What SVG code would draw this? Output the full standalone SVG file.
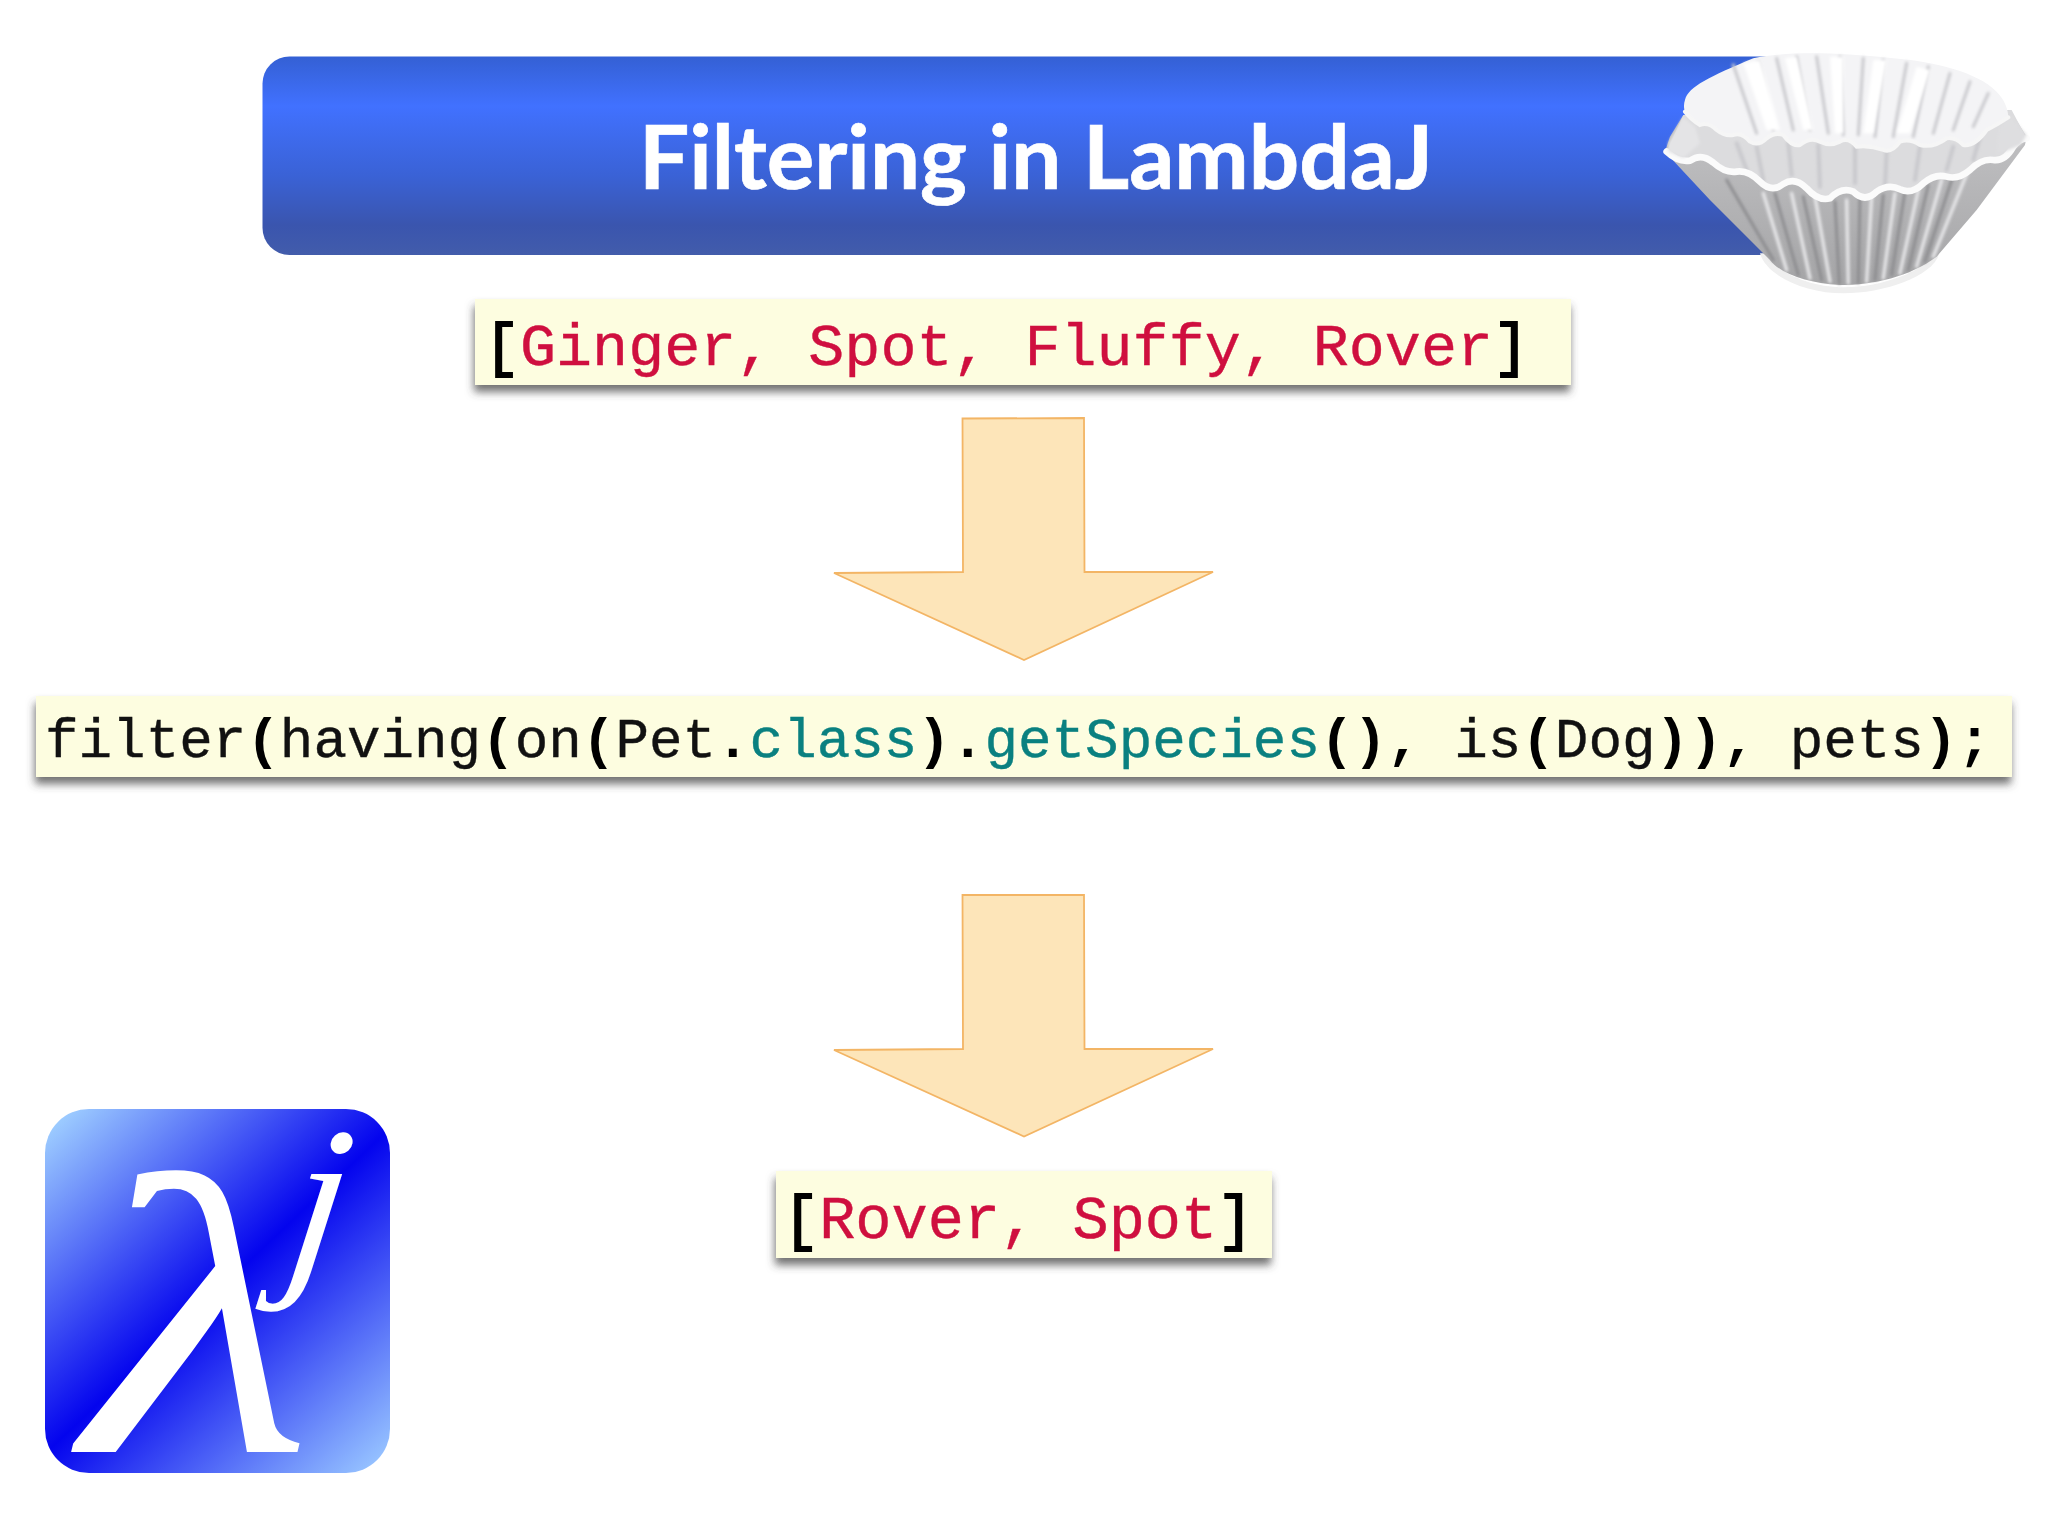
<svg xmlns="http://www.w3.org/2000/svg" width="2048" height="1536" viewBox="0 0 2048 1536">
<style>
.code{font-family:"Liberation Mono","Courier New",monospace;fill:#111;stroke:#111;stroke-width:.4}
.b{font-weight:700;fill:#000;stroke:none}
.k{fill:#000;stroke:#000;stroke-width:1.8}
.red{fill:#cf0f3f;stroke:#cf0f3f}
.teal{fill:#0a8080;stroke:#0a8080}
.box{fill:#fdfde0;filter:url(#sh)}
.arrow{fill:#fde5b9;stroke:#f3b565;stroke-width:1.8;stroke-linejoin:miter}
.pd{stroke:#8a8a8d;fill:none;stroke-linecap:round}
.pl{stroke:#e8e8ea;fill:none;stroke-linecap:round}
.pu{stroke:#c9c9cd;fill:none;stroke-linecap:round}
</style>
<defs>
<linearGradient id="bar" x1="0" y1="0" x2="0" y2="1">
<stop offset="0" stop-color="#3460d4"/><stop offset=".25" stop-color="#4171ff"/><stop offset=".6" stop-color="#3a62d6"/><stop offset=".85" stop-color="#3a55ae"/><stop offset="1" stop-color="#425cab"/>
</linearGradient>
<linearGradient id="logo" gradientUnits="userSpaceOnUse" x1="58" y1="1122" x2="377" y2="1460">
<stop offset="0" stop-color="#9ccbff"/><stop offset=".5" stop-color="#0404ee"/><stop offset="1" stop-color="#94c0ff"/>
</linearGradient>
<linearGradient id="body" gradientUnits="userSpaceOnUse" x1="0" y1="380" x2="0" y2="770">
<stop offset="0" stop-color="#bcbcbe"/><stop offset="1" stop-color="#a4a4a6"/>
</linearGradient>
<filter id="sh" x="-5%" y="-20%" width="110%" height="150%">
<feDropShadow dx="-1" dy="7" stdDeviation="4" flood-color="#444" flood-opacity=".75"/>
</filter>
<filter id="soft" x="-5%" y="-5%" width="110%" height="110%"><feGaussianBlur stdDeviation="4"/></filter>
<filter id="edge" x="-5%" y="-5%" width="110%" height="110%"><feGaussianBlur stdDeviation="2"/></filter>
</defs>
<rect width="2048" height="1536" fill="#fff"/>

<g id="title">
<rect x="262.500" y="56.500" width="1540" height="198.500" rx="27" fill="url(#bar)"/>
<text x="1036" y="189" text-anchor="middle" font-family="Lato,'Open Sans',sans-serif" font-weight="700" font-size="88" fill="#fff" stroke="#fff" stroke-width=".7" textLength="794" lengthAdjust="spacingAndGlyphs">Filtering in LambdaJ</text>
</g>

<g id="coffee-filter" transform="translate(1600 30) scale(.3333)">
<path d="M480 670C500 740 620 790 730 790C850 790 1000 740 1018 670Z" fill="#efefef"/>
<path d="M500 670C520 720 620 772 730 772C850 772 980 720 1000 670Z" fill="#fff"/>
<path d="M195 365L210 320L250 255L1230 240L1280 320L1275 345L1130 540L1010 680C930 740 820 765 720 765C620 760 540 730 510 690L465 645L330 510Z" fill="url(#body)"/>
<g class="pl" stroke-width="10" filter="url(#soft)">
<path d="M490 490L560 720M575 490L630 745M645 500L690 755M740 510L745 760M815 500L800 755M885 490L850 745M955 480L900 730M1025 450L950 710M1105 420L1000 680"/>
</g>
<g class="pd" stroke-width="8" filter="url(#soft)">
<path d="M380 450L520 690M525 490L595 735M610 500L665 750M705 515L718 760M780 500L775 758M850 495L825 750M915 485L875 735M985 465L925 720M1060 435L975 695"/>
</g>
<path d="M200 365L250 255L1235 240L1280 325Q1260 325 1240 350Q1215 395 1180 390Q1145 385 1110 420Q1075 450 1040 440Q1005 430 970 460Q935 495 900 478Q865 460 830 485Q795 520 760 485Q725 470 690 505Q655 515 620 475Q585 440 550 462Q515 490 480 455Q445 420 410 425Q375 430 340 398Q305 368 270 392Q235 398 200 365Z" fill="#dcdcde"/>
<g class="pu" stroke-width="12" filter="url(#soft)">
<path d="M410 340L440 420M470 350L490 450M565 340L575 435M655 345L660 470M765 350L765 460M860 365L855 470M960 350L945 450M1060 350L1040 420M1140 320L1120 390"/>
</g>
<path d="M200 365Q235 398 270 392Q305 368 340 398Q375 430 410 425Q445 420 480 455Q515 490 550 462Q585 440 620 475Q655 515 690 505Q725 470 760 485Q795 520 830 485Q865 460 900 478Q935 495 970 460Q1005 430 1040 440Q1075 450 1110 420Q1145 385 1180 390Q1215 395 1240 350Q1260 325 1280 325" fill="none" stroke="#fbfbfb" stroke-width="20" stroke-linecap="round" filter="url(#edge)"/>
<path d="M205 340L250 262L285 290L300 340L250 385L205 365Z" fill="#e4e4e6" filter="url(#soft)"/>
<path d="M1225 250L1280 315L1262 345L1190 375L1195 300Z" fill="#dedee0" filter="url(#soft)"/>
<path d="M255 210C265 170 330 140 460 85C560 65 690 65 880 85C1000 95 1130 125 1190 185C1215 210 1225 240 1225 262Q1190 285 1160 300Q1125 350 1090 345Q1065 320 1040 325Q1000 355 960 345Q930 325 900 335Q875 370 850 360Q810 345 770 350Q745 320 720 335Q690 350 660 335Q630 320 600 345Q575 350 550 315Q525 305 500 325Q475 350 450 335Q425 305 400 315Q375 320 350 300Q325 275 300 285Q275 270 255 245C250 230 252 220 255 210Z" fill="#f4f4f6"/>
<g class="pu" stroke-width="9" filter="url(#soft)">
<path d="M400 105L470 310M475 95L520 300M530 85L580 300M590 80L630 300M650 80L685 310M720 80L730 315M790 85L775 315M850 90L825 320M920 100L880 320M985 110L940 320M1050 130L1000 310M1110 155L1060 300M1165 190L1120 290"/>
</g>
<g fill="#fff" filter="url(#soft)">
<path d="M430 100L500 300L540 300L480 90ZM555 85L610 300L640 300L590 80ZM690 80L705 310L730 310L730 80ZM820 90L790 310L820 310L860 90ZM950 110L890 310L930 310L990 120Z"/>
</g>
<path d="M255 245Q275 270 300 285Q325 275 350 300Q375 320 400 315Q425 305 450 335Q475 350 500 325Q525 305 550 315Q575 350 600 345Q630 320 660 335Q690 350 720 335Q745 320 770 350Q810 345 850 360Q875 370 900 335Q930 325 960 345Q1000 355 1040 325Q1065 320 1090 345Q1125 350 1160 300Q1190 285 1225 262" fill="none" stroke="#f6f6f6" stroke-width="12" stroke-linecap="round" filter="url(#edge)"/>
</g>

<g id="input-list">
<rect class="box" x="475" y="299" width="1096" height="86"/>
<text class="code" x="484" y="365" font-size="60.050"><tspan class="k">[</tspan><tspan class="red">Ginger, Spot, Fluffy, Rover</tspan><tspan class="k">]</tspan></text>
</g>

<g id="filter-call">
<rect class="box" x="36" y="696" width="1976" height="81"/>
<text class="code" x="45" y="757" font-size="55.920">filter<tspan class="b">(</tspan>having<tspan class="b">(</tspan>on<tspan class="b">(</tspan>Pet<tspan class="b">.</tspan><tspan class="teal">class</tspan><tspan class="b">).</tspan><tspan class="teal">getSpecies</tspan><tspan class="b">(), </tspan>is<tspan class="b">(</tspan>Dog<tspan class="b">)), </tspan>pets<tspan class="b">);</tspan></text>
</g>

<g id="output-list">
<rect class="box" x="776" y="1171" width="496" height="87"/>
<text class="code" x="783" y="1238" font-size="60.300"><tspan class="k">[</tspan><tspan class="red">Rover, Spot</tspan><tspan class="k">]</tspan></text>
</g>

<g id="connectors">
<path class="arrow" d="M962.500 418.500L1084 418L1084.500 572L1213 572L1024 660L834 573L963 572Z"/>
<path class="arrow" d="M962.500 895L1084 895L1084.500 1049L1213 1049L1024 1136.500L834 1050L963 1049Z"/>
</g>

<g id="lambdaj-logo">
<rect x="45" y="1109" width="345" height="364" rx="44" fill="url(#logo)"/>
<text transform="translate(84 1452) scale(1.32 1)" font-family="'Liberation Serif',serif" font-style="italic" font-size="400" fill="#fff">λ</text>
<text transform="translate(283 1268) skewX(-8)" font-family="'Liberation Serif',serif" font-style="italic" font-size="205" fill="#fff">j</text>
</g>
</svg>
